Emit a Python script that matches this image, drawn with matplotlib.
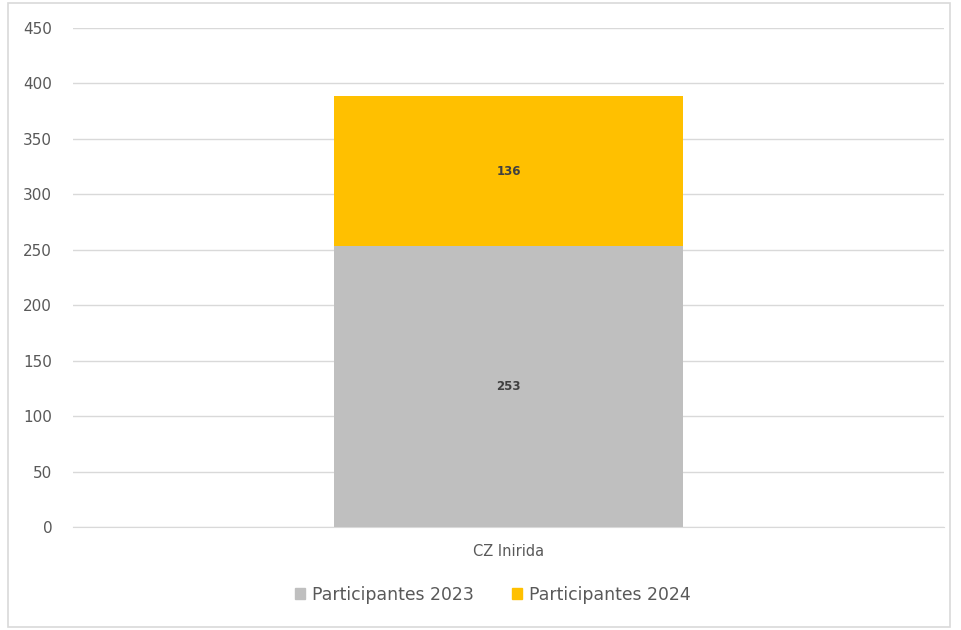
import matplotlib
matplotlib.use("Agg")
import matplotlib.pyplot as plt
from matplotlib.patches import Rectangle, Patch

categories = ["CZ Inirida"]
participantes_2023 = [253]
participantes_2024 = [136]
series_names = ["Participantes 2023", "Participantes 2024"]
yticks = [0, 50, 100, 150, 200, 250, 300, 350, 400, 450]

c2023 = "#bfbfbf"
c2024 = "#ffc000"
text_gray = "#595959"

fig = plt.figure(figsize=(9.62, 6.3), dpi=100)
fig.patch.set_facecolor("white")
fig.patches.append(Rectangle((8 / 962, 3 / 630), 942 / 962, 624 / 630,
                             transform=fig.transFigure, fill=False,
                             edgecolor="#d9d9d9", linewidth=1.2))

ax = fig.add_axes([73 / 962, 1 - 527 / 630, 871 / 962, 499 / 630])
x = list(range(len(categories)))
b1 = ax.bar(x, participantes_2023, width=0.4, color=c2023, zorder=3)
b2 = ax.bar(x, participantes_2024, width=0.4, bottom=participantes_2023,
            color=c2024, zorder=3)

for bars, vals, bottoms in ((b1, participantes_2023, [0] * len(x)),
                            (b2, participantes_2024, participantes_2023)):
    for rect, v, b in zip(bars, vals, bottoms):
        ax.text(rect.get_x() + rect.get_width() / 2, b + v / 2, str(v),
                ha="center", va="center", fontsize=8.5, fontweight="bold",
                color="#404040", zorder=4)

ax.set_xlim(-0.5, 0.5)
ax.set_ylim(0, 450)
ax.set_yticks(yticks)
ax.set_xticks(x)
ax.set_xticklabels(categories)
ax.grid(axis="y", color="#d9d9d9", linewidth=1, zorder=0)
for s in ("top", "right", "left"):
    ax.spines[s].set_visible(False)
ax.spines["bottom"].set_color("#d9d9d9")
ax.tick_params(axis="y", length=0, pad=15, labelsize=11, labelcolor=text_gray)
ax.tick_params(axis="x", length=0, pad=12, labelsize=10.5, labelcolor=text_gray)

handles = [Patch(color=c2023), Patch(color=c2024)]
leg = fig.legend(handles, series_names, loc="center", ncol=2,
                 bbox_to_anchor=(493 / 962, 1 - 595 / 630), frameon=False,
                 fontsize=12.4, handlelength=0.6, handleheight=0.6,
                 handletextpad=0.4, columnspacing=2.2)
for t in leg.get_texts():
    t.set_color(text_gray)

fig.savefig("out.png", dpi=100)
